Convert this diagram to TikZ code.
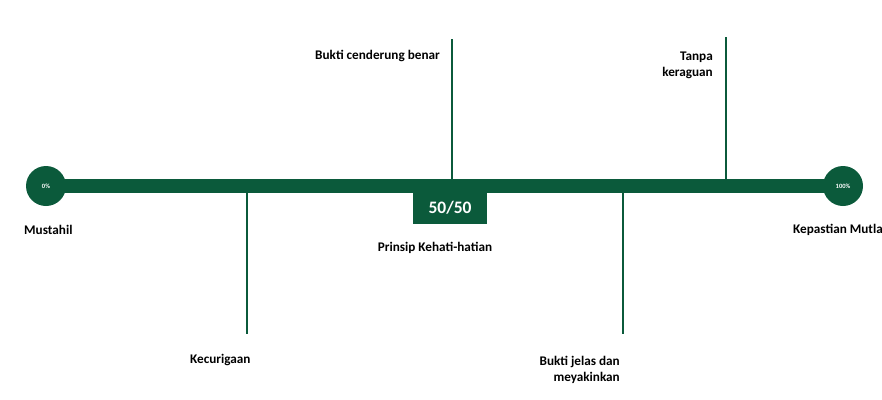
\documentclass[tikz,border=0pt]{standalone}
\usepackage{fontspec}
\setmainfont{Carlito}
\usetikzlibrary{positioning,backgrounds}
\definecolor{hijau}{HTML}{0B5A3B}

\begin{document}
\begin{tikzpicture}[
			x=1pt, y=-1pt,
			every node/.style={font=\bfseries\fontsize{13.2}{16}\selectfont, inner sep=0pt},
			ujung/.style={circle, fill=hijau, minimum size=40pt, text=white, font=\bfseries\fontsize{6.5}{7}\selectfont},
			batang/.style={draw=hijau, line width=14pt},
			garis/.style={draw=hijau, line width=2.6pt},
			kotak/.style={fill=hijau, text=white, minimum width=74pt, minimum height=32pt, font=\bfseries\fontsize{17.5}{19}\selectfont}
			]
			\useasboundingbox (0,0) rectangle (882,399);
			% ujung kiri dan kanan skala
			\node[ujung] (nol) at (46,186) {0\%};
			\node[ujung] (penuh) at (843,186) {100\%};
			\begin{pgfonlayer}{background}
				\draw[batang] (nol.center) -- (penuh.center);
			\end{pgfonlayer}
			\node[kotak] (tengah) at (450,208) {50/50};
			% garis penanda
			\coordinate (curiga) at (247,186);   \coordinate (curiga-ujung) at (247,334);
			\coordinate (cenderung) at (452,186);\coordinate (cenderung-ujung) at (452,39);
			\coordinate (jelas) at (623,186);    \coordinate (jelas-ujung) at (623,334);
			\coordinate (tanpa) at (726,186);    \coordinate (tanpa-ujung) at (726,37);
			\draw[garis] (curiga) -- (curiga-ujung);
			\draw[garis] (cenderung) -- (cenderung-ujung);
			\draw[garis] (jelas) -- (jelas-ujung);
			\draw[garis] (tanpa) -- (tanpa-ujung);
			% label
			\node[anchor=west] (mustahil) at (24,230) {Mustahil};
			\node[anchor=west] (pasti) at (793,230) {Kepastian Mutla};
			\node (prinsip) at (435,248) {Prinsip Kehati-hatian};
			\node[anchor=west] (kecurigaan) at (190,360) {Kecurigaan};
			\node[anchor=east] (benar) at (440,56) {Bukti cenderung benar};
			\node[anchor=east, align=right] (ragu) at (713,65) {Tanpa\\keraguan};
			\node[anchor=east, align=right] (yakin) at (620,370) {Bukti jelas dan\\meyakinkan};
		\end{tikzpicture}
\end{document}
